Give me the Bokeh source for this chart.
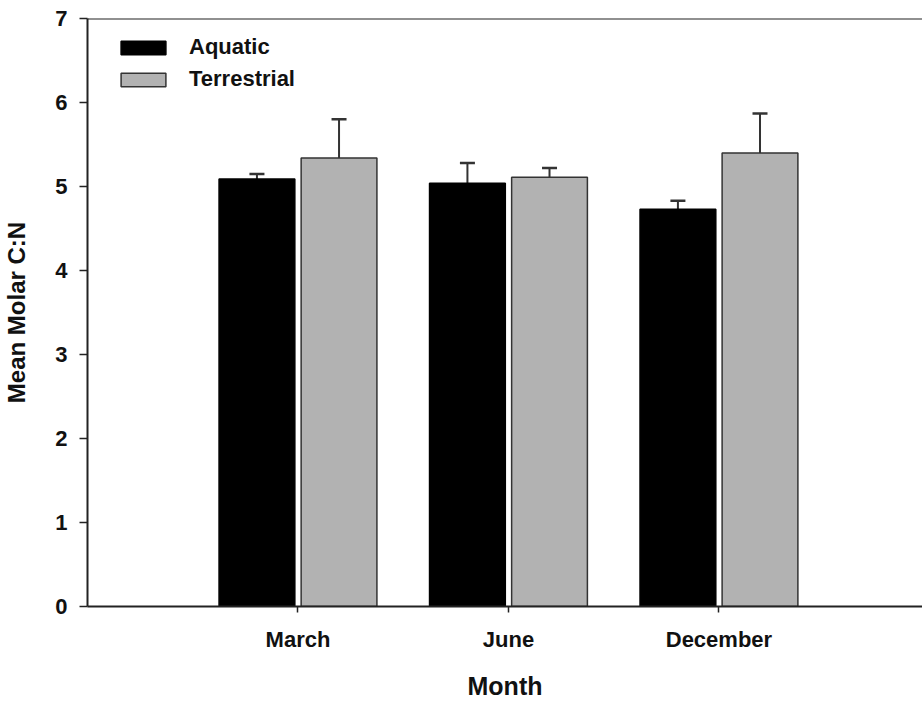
from bokeh.plotting import figure
from bokeh.models import (Range1d, FixedTicker, Span, Whisker, TeeHead, ColumnDataSource,
                          Legend, LegendItem)
from bokeh.embed import file_html
from bokeh.resources import INLINE

months = ["March", "June", "December"]
aquatic = [5.09, 5.04, 4.73]
aquatic_err = [0.06, 0.24, 0.10]
terrestrial = [5.34, 5.11, 5.40]
terrestrial_err = [0.46, 0.11, 0.47]

xpos = [1, 2, 3]
off = 0.195
bw = 0.36

FONT = "Liberation Sans"

p = figure(width=922, height=702, output_backend="svg", toolbar_location=None,
           x_range=Range1d(0, 3.967), y_range=Range1d(0, 7),
           min_border_left=87, min_border_top=18, min_border_right=0, min_border_bottom=10)
p.outline_line_color = None
p.grid.grid_line_color = None
p.background_fill_color = "white"

src_a = ColumnDataSource(dict(x=[x - off for x in xpos], top=aquatic,
                              upper=[v + e for v, e in zip(aquatic, aquatic_err)]))
src_t = ColumnDataSource(dict(x=[x + off for x in xpos], top=terrestrial,
                              upper=[v + e for v, e in zip(terrestrial, terrestrial_err)]))

ra = p.vbar(x="x", top="top", width=bw, source=src_a, fill_color="black",
            line_color="black", line_width=1.5)
rt = p.vbar(x="x", top="top", width=bw, source=src_t, fill_color="#b2b2b2",
            line_color="#333333", line_width=1.5)

for src in (src_a, src_t):
    w = Whisker(base="x", lower="top", upper="upper", source=src,
                line_color="#333333", line_width=2,
                upper_head=TeeHead(size=15, line_color="#333333", line_width=2.5),
                lower_head=None)
    p.add_layout(w)

p.add_layout(Span(location=7, dimension="width", line_color="#222222", line_width=2))

# axes
p.xaxis.ticker = FixedTicker(ticks=xpos)
p.xaxis.major_label_overrides = {x: m for x, m in zip(xpos, months)}
p.xaxis.minor_tick_line_color = None
p.xaxis.major_tick_in = 0
p.xaxis.major_tick_out = 6
p.xaxis.major_label_standoff = 14
p.xaxis.axis_label = "Month"
p.xaxis.axis_label_standoff = 17

p.yaxis.ticker = FixedTicker(ticks=[0, 1, 2, 3, 4, 5, 6, 7])
p.yaxis.minor_tick_line_color = None
p.yaxis.major_tick_in = 0
p.yaxis.major_tick_out = 8
p.yaxis.major_label_standoff = 12
p.yaxis.axis_label = "Mean Molar C:N"
p.yaxis.axis_label_standoff = 22

for ax in (p.xaxis[0], p.yaxis[0]):
    ax.axis_line_color = "#222222"
    ax.axis_line_width = 2
    ax.major_tick_line_color = "#222222"
    ax.major_tick_line_width = 1.5
    ax.major_label_text_font = FONT
    ax.major_label_text_font_style = "bold"
    ax.major_label_text_font_size = "22px"
    ax.major_label_text_color = "#111111"
    ax.axis_label_text_font = FONT
    ax.axis_label_text_font_style = "bold"
    ax.axis_label_text_color = "#111111"

p.xaxis.axis_label_text_font_size = "25px"
p.yaxis.axis_label_text_font_size = "24px"

legend = Legend(items=[LegendItem(label="Aquatic", renderers=[ra]),
                       LegendItem(label="Terrestrial", renderers=[rt])],
                location=(28, 514), orientation="vertical")
legend.glyph_width = 56
legend.glyph_height = 17
legend.label_standoff = 18
legend.spacing = 6
legend.padding = 0
legend.margin = 0
legend.border_line_color = None
legend.background_fill_alpha = 0
legend.label_text_font = FONT
legend.label_text_font_style = "bold"
legend.label_text_font_size = "22px"
legend.label_text_color = "#111111"
legend.label_height = 17
p.add_layout(legend)

open("out.html", "w").write(file_html(p, INLINE))
